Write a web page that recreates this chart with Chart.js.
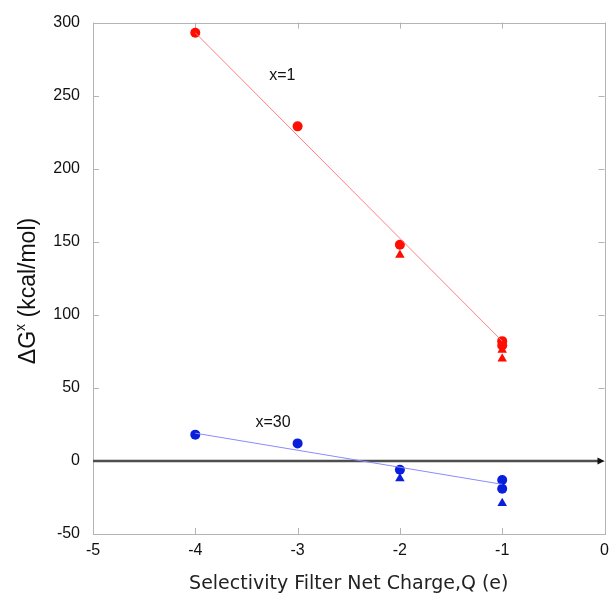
<!DOCTYPE html>
<html lang="en">
  <head>
    <meta charset="UTF-8" />
    <title>Selectivity Filter Net Charge</title>
    <script src="https://cdn.jsdelivr.net/npm/chart.js"></script>
    <style>
      html,
      body {
        margin: 0;
        padding: 0;
        background: #fff;
      }
    </style>
  </head>
  <body>
    <canvas id="my-chart" width="610" height="597"></canvas>

    <script>
      //values
      //x = 1 series (red)
      const redCircleQ = [-4, -3, -2, -1, -1];
      const redCircleG = [293, 229, 148, 82, 79];
      const redTriQ = [-2, -1, -1];
      const redTriG = [141, 76, 70];
      const redFitQ = [-4, -1];
      const redFitG = [293, 82];

      //x = 30 series (blue)
      const blueCircleQ = [-4, -3, -2, -1, -1];
      const blueCircleG = [18, 12, -6, -13, -19];
      const blueTriQ = [-2, -1, -1];
      const blueTriG = [-12, -18, -29];
      const blueFitQ = [-4, -1];
      const blueFitG = [19, -16];

      //axes
      const qTicks = [-5, -4, -3, -2, -1, 0];
      const gTicks = [-50, 0, 50, 100, 150, 200, 250, 300];

      //in-plot labels
      const seriesLabels = ["x=1", "x=30"];
      const seriesLabelQ = [-3.15, -3.24];
      const seriesLabelG = [264, 26];

      const RED = "#ff0d00";
      const BLUE = "#0a1fdc";

      function pts(xs, ys) {
        return xs.map((x, i) => ({ x: x, y: ys[i] }));
      }

      //frame, inward ticks, zero line with arrow, y title and labels
      const framePlugin = {
        id: "frame",
        beforeDatasetsDraw(chart) {
          const { ctx, chartArea: a } = chart;
          const xs = chart.scales.x;
          const ys = chart.scales.y;
          ctx.save();
          ctx.strokeStyle = "#b4b4b4";
          ctx.lineWidth = 1;
          ctx.strokeRect(
            Math.round(a.left) + 0.5,
            Math.round(a.top) + 0.5,
            Math.round(a.right - a.left),
            Math.round(a.bottom - a.top)
          );
          ctx.beginPath();
          qTicks.forEach((q) => {
            const px = Math.round(xs.getPixelForValue(q)) + 0.5;
            ctx.moveTo(px, a.bottom);
            ctx.lineTo(px, a.bottom - 6);
            ctx.moveTo(px, a.top);
            ctx.lineTo(px, a.top + 6);
          });
          gTicks.forEach((g) => {
            const py = Math.round(ys.getPixelForValue(g)) + 0.5;
            ctx.moveTo(a.left, py);
            ctx.lineTo(a.left + 6, py);
            ctx.moveTo(a.right, py);
            ctx.lineTo(a.right - 6, py);
          });
          ctx.stroke();

          //zero line
          const y0 = ys.getPixelForValue(0);
          ctx.strokeStyle = "#4e4e4e";
          ctx.lineWidth = 2.5;
          ctx.beginPath();
          ctx.moveTo(a.left, y0);
          ctx.lineTo(a.right - 5, y0);
          ctx.stroke();
          ctx.fillStyle = "#111";
          ctx.beginPath();
          ctx.moveTo(a.right, y0);
          ctx.lineTo(a.right - 7, y0 - 3.5);
          ctx.lineTo(a.right - 7, y0 + 3.5);
          ctx.closePath();
          ctx.fill();
          ctx.restore();
        },
        afterDraw(chart) {
          const { ctx } = chart;
          const xs = chart.scales.x;
          const ys = chart.scales.y;
          ctx.save();
          ctx.fillStyle = "#111";
          ctx.textAlign = "center";
          ctx.textBaseline = "middle";
          ctx.font = '16px "Liberation Sans", Arial, sans-serif';
          seriesLabels.forEach((t, i) => {
            ctx.fillText(
              t,
              xs.getPixelForValue(seriesLabelQ[i]),
              ys.getPixelForValue(seriesLabelG[i])
            );
          });

          //y title with superscript x
          const big = '23px "Liberation Sans", Arial, sans-serif';
          const small = '14px "Liberation Sans", Arial, sans-serif';
          ctx.font = big;
          const w1 = ctx.measureText("\u0394G").width;
          const w3 = ctx.measureText(" (kcal/mol)").width;
          ctx.font = small;
          const w2 = ctx.measureText("x").width;
          const total = w1 + w2 + w3;
          ctx.translate(27, 291);
          ctx.rotate(-Math.PI / 2);
          ctx.textAlign = "left";
          ctx.textBaseline = "alphabetic";
          let x = -total / 2;
          ctx.font = big;
          ctx.fillText("\u0394G", x, 8);
          x += w1;
          ctx.font = small;
          ctx.fillText("x", x, -2);
          x += w2;
          ctx.font = big;
          ctx.fillText(" (kcal/mol)", x, 8);
          ctx.restore();
        },
      };

      const ctx = document.getElementById("my-chart").getContext("2d");
      const myChart = new Chart(ctx, {
        type: "scatter",
        data: {
          datasets: [
            {
              data: pts(redFitQ, redFitG),
              showLine: true,
              borderColor: "#ff8080",
              borderWidth: 1,
              pointRadius: 0,
            },
            {
              data: pts(blueFitQ, blueFitG),
              showLine: true,
              borderColor: "#8a8aff",
              borderWidth: 1,
              pointRadius: 0,
            },
            {
              data: pts(redTriQ, redTriG),
              pointStyle: "triangle",
              pointRadius: 5.5,
              backgroundColor: RED,
              borderColor: RED,
              borderWidth: 0,
            },
            {
              data: pts(redCircleQ, redCircleG),
              pointStyle: "circle",
              pointRadius: 5,
              backgroundColor: RED,
              borderColor: RED,
              borderWidth: 0,
            },
            {
              data: pts(blueTriQ, blueTriG),
              pointStyle: "triangle",
              pointRadius: 5.5,
              backgroundColor: BLUE,
              borderColor: BLUE,
              borderWidth: 0,
            },
            {
              data: pts(blueCircleQ, blueCircleG),
              pointStyle: "circle",
              pointRadius: 5,
              backgroundColor: BLUE,
              borderColor: BLUE,
              borderWidth: 0,
            },
          ],
        },
        options: {
          responsive: false,
          animation: false,
          devicePixelRatio: 1,
          layout: { padding: { top: 21, right: 4, left: 0, bottom: 0 } },
          plugins: {
            legend: { display: false },
            tooltip: { enabled: false },
          },
          scales: {
            x: {
              type: "linear",
              min: -5,
              max: 0,
              afterBuildTicks: (s) => {
                s.ticks = qTicks.map((v) => ({ value: v }));
              },
              afterFit: (s) => {
                s.height = 63;
                //let the "0" label hang off the edge like the original
                s.paddingLeft = 0;
                s.paddingRight = 0;
              },
              grid: { display: false, drawTicks: false },
              border: { display: false },
              ticks: {
                padding: 7,
                color: "#111",
                font: { family: '"Liberation Sans", Arial, sans-serif', size: 16 },
              },
              title: {
                display: true,
                text: "Selectivity Filter Net Charge,Q (e)",
                color: "#222",
                padding: { top: 0, bottom: 2 },
                font: { family: '"DejaVu Sans", sans-serif', size: 19 },
              },
            },
            y: {
              type: "linear",
              min: -50,
              max: 300,
              afterBuildTicks: (s) => {
                s.ticks = gTicks.map((v) => ({ value: v }));
              },
              afterFit: (s) => {
                s.width = 93;
              },
              grid: { display: false, drawTicks: false },
              border: { display: false },
              ticks: {
                padding: 13,
                color: "#111",
                font: { family: '"Liberation Sans", Arial, sans-serif', size: 16 },
              },
            },
          },
        },
        plugins: [framePlugin],
      });
    </script>
  </body>
</html>
